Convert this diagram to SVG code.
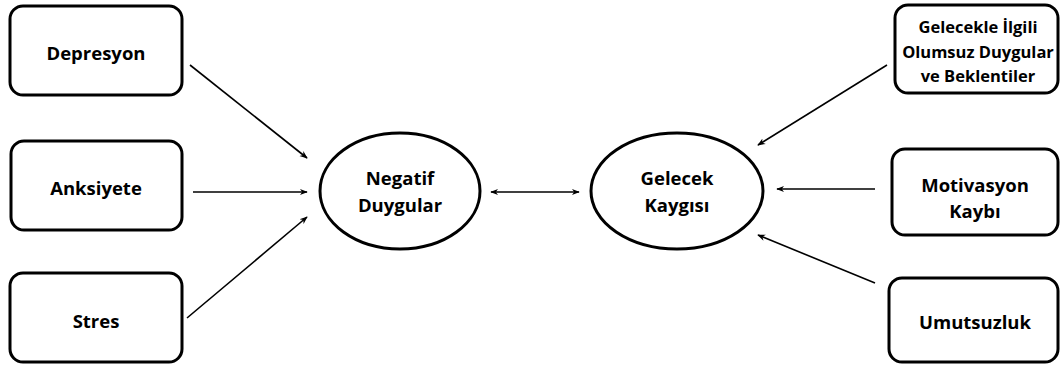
<svg xmlns="http://www.w3.org/2000/svg" width="1061" height="367" viewBox="0 0 1061 367">
<style>
.box{fill:#fff;stroke:#000;stroke-width:3}
.ell{fill:#fff;stroke:#000;stroke-width:3}
.t{font-family:"Open Sans","Liberation Sans",sans-serif;font-weight:700;font-size:18.5px;fill:#000;text-anchor:middle;dominant-baseline:central}
.s{font-size:16.5px}
.c{stroke:#000;stroke-width:1.6;fill:none}
</style>
<defs>
<marker id="ah" viewBox="0 0 10 10" refX="9" refY="5" markerWidth="8" markerHeight="8" orient="auto-start-reverse" markerUnits="userSpaceOnUse">
<path d="M0,1 L10,5 L0,9 L3,5 Z" fill="#000"/>
</marker>
</defs>
<g id="connectors">
<line class="c" x1="190" y1="65" x2="307" y2="158" marker-end="url(#ah)"/>
<line class="c" x1="193" y1="192" x2="307" y2="192" marker-end="url(#ah)"/>
<line class="c" x1="187" y1="318" x2="307" y2="217" marker-end="url(#ah)"/>
<line class="c" x1="491" y1="192" x2="579" y2="192" marker-start="url(#ah)" marker-end="url(#ah)"/>
<line class="c" x1="887" y1="65" x2="758" y2="145" marker-end="url(#ah)"/>
<line class="c" x1="875" y1="189" x2="777" y2="189" marker-end="url(#ah)"/>
<line class="c" x1="875" y1="283" x2="758" y2="235" marker-end="url(#ah)"/>
</g>
<g id="depresyon"><rect class="box" x="10" y="6" width="172" height="89" rx="13"/><text class="t" x="96" y="52">Depresyon</text></g>
<g id="anksiyete"><rect class="box" x="11" y="141" width="171" height="89" rx="13"/><text class="t" x="96" y="187">Anksiyete</text></g>
<g id="stres"><rect class="box" x="10" y="273" width="172" height="89" rx="13"/><text class="t" x="96" y="320">Stres</text></g>
<g id="negatif"><ellipse class="ell" cx="400" cy="191" rx="80" ry="58"/><text class="t" x="400" y="177">Negatif</text><text class="t" x="400" y="204">Duygular</text></g>
<g id="gelecek"><ellipse class="ell" cx="677" cy="191" rx="86" ry="58"/><text class="t" x="677" y="177">Gelecek</text><text class="t" x="677" y="204">Kaygısı</text></g>
<g id="olumsuz"><rect class="box" x="895" y="5" width="163" height="88" rx="13"/><text class="t s" x="978" y="26">Gelecekle İlgili</text><text class="t s" x="978" y="51">Olumsuz Duygular</text><text class="t s" x="978" y="75">ve Beklentiler</text></g>
<g id="motivasyon"><rect class="box" x="892" y="149" width="166" height="86" rx="13"/><text class="t" x="975" y="184">Motivasyon</text><text class="t" x="975" y="210">Kaybı</text></g>
<g id="umutsuzluk"><rect class="box" x="889" y="278" width="169" height="84" rx="13"/><text class="t" x="975" y="321">Umutsuzluk</text></g>
</svg>
